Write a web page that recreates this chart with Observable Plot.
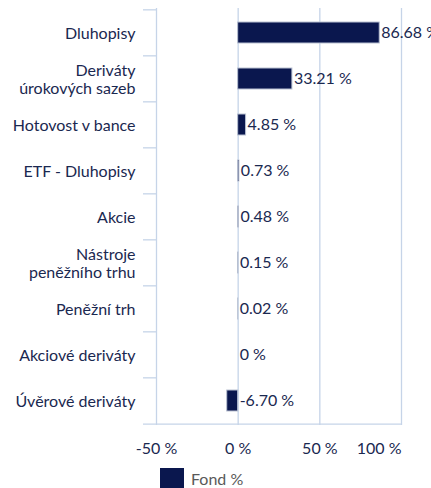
<!DOCTYPE html>
<html>
<head>
<meta charset="utf-8">
<script src="https://cdn.jsdelivr.net/npm/d3@7"></script>
<script src="https://cdn.jsdelivr.net/npm/@observablehq/plot@0.6"></script>
<style>
  body { margin: 0; background: #fff; font-family: Lato, "Open Sans", sans-serif; }
  #legend { display: flex; align-items: center; padding-left: 160px; margin-top: 10px; height: 20px; }
  #legend .sw { width: 24px; height: 20px; background: #0a174e; margin-right: 7px; }
  #legend span { color: #595959; font-size: 16px; }
</style>
</head>
<body>
<div id="chart"></div>
<div id="legend"><div class="sw"></div><span>Fond %</span></div>
<script>
const categories = [
  "Dluhopisy",
  "Deriváty\núrokových sazeb",
  "Hotovost v bance",
  "ETF - Dluhopisy",
  "Akcie",
  "Nástroje\npeněžního trhu",
  "Peněžní trh",
  "Akciové deriváty",
  "Úvěrové deriváty"
];
const values = [86.68, 33.21, 4.85, 0.73, 0.48, 0.15, 0.02, 0, -6.70];
const xTicks = [-50, 0, 50, 100];
const seriesName = "Fond %";

const data = categories.map((c, i) => ({cat: c, value: values[i]}));
const fmt = v => v === 0 ? "0 %" : v.toFixed(2) + " %";

const W = 431, H = 458, mT = 8, mB = 33, mL = 156, mR = 30;
const step = (H - mT - mB) / categories.length;
const navy = "#1a2850", bar = "#0a174e", grid = "#c6d4e8";
const fs = 16;

const chart = Plot.plot({
  width: W, height: H,
  marginTop: mT, marginBottom: mB, marginLeft: mL, marginRight: mR,
  style: {fontFamily: "Lato, 'Open Sans', sans-serif", fontSize: fs + "px", color: navy, overflow: "visible"},
  x: {domain: [-50, 100], axis: null},
  y: {domain: categories, paddingInner: 0.55, paddingOuter: 0.275, label: null},
  marks: [
    Plot.gridX(xTicks, {stroke: grid, strokeOpacity: 1, strokeWidth: 1.3}),
    Plot.ruleY(categories, {y: d => d, x1: -50, x2: -50, insetLeft: -13, dy: -step / 2, stroke: grid, strokeWidth: 1.3}),
    Plot.ruleY([categories[categories.length - 1]], {y: d => d, x1: -50, x2: 100, insetLeft: -13, dy: step / 2, stroke: grid, strokeWidth: 1.3}),
    Plot.barX(data, {x: "value", y: "cat", fill: bar, stroke: "#b9c1d2", strokeWidth: 1}),
    Plot.text(data, {x: d => Math.max(d.value, 0), y: "cat", text: d => fmt(d.value), textAnchor: "start", dx: 1.5, fill: navy, fontSize: fs}),
    Plot.axisY({tickSize: 0, tickPadding: 21, fill: navy, fontSize: fs, lineHeight: 1.15}),
    Plot.text(xTicks.slice(0, -1), {x: d => d, frameAnchor: "bottom", dy: 28, text: d => d + " %", fill: navy, fontSize: fs}),
    Plot.text(xTicks.slice(-1), {x: d => d, frameAnchor: "bottom", dy: 28, text: d => d + " %", textAnchor: "end", fill: navy, fontSize: fs})
  ]
});
document.getElementById("chart").appendChild(chart);
</script>
</body>
</html>
